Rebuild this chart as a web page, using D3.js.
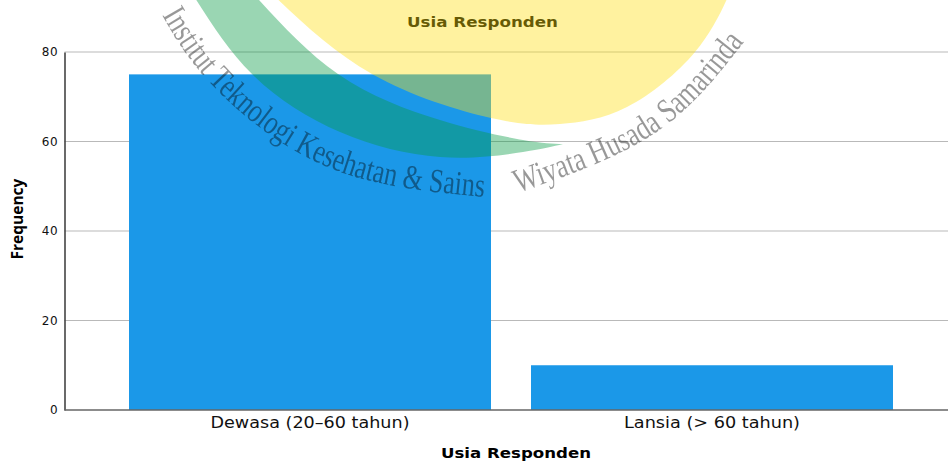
<!DOCTYPE html>
<html><head><meta charset="utf-8">
<script src="https://cdn.jsdelivr.net/npm/d3@7/dist/d3.min.js"></script>
<style>html,body{margin:0;padding:0;background:#fff}svg{display:block}text{font-family:"DejaVu Sans",sans-serif}</style>
</head><body><svg id="c" width="948" height="461"></svg>
<script>
const categories = ["Dewasa (20–60 tahun)", "Lansia (> 60 tahun)"];
const frequency = [75, 10];
const yTicks = [0, 20, 40, 60, 80];
const chartTitle = "Usia Responden";
const xTitle = "Usia Responden";
const yTitle = "Frequency";
const watermarkLeft = "Institut Teknologi Kesehatan & Sains";
const watermarkRight = "Wiyata Husada Samarinda";

const svg = d3.select("#c");
const x = d3.scaleBand().domain(categories).range([109, 913]).paddingInner(40/402).paddingOuter(20/402);
const y = d3.scaleLinear().domain([0, 80]).range([410, 52]);
const left = 64.5, right = 948;
const catWidths = [199, 176];

svg.append("rect").attr("width",948).attr("height",461).attr("fill","#fff");

// grid
svg.append("g").selectAll("line").data(yTicks.filter(d=>d>0)).join("line")
  .attr("x1",left).attr("x2",right).attr("y1",d=>y(d)).attr("y2",d=>y(d))
  .attr("stroke","#b9b9b9").attr("stroke-width",1);

// bars
svg.append("g").selectAll("rect").data(frequency).join("rect")
  .attr("x",(d,i)=>x(categories[i])).attr("width",x.bandwidth())
  .attr("y",d=>y(d)).attr("height",d=>y(0)-y(d)).attr("fill","#1b98e8");

// axes
const ay = svg.append("g").attr("transform",`translate(${left},0)`)
  .call(d3.axisLeft(y).tickValues(yTicks).tickSize(0).tickPadding(6));
ay.select(".domain").attr("stroke","#444").attr("stroke-width",1.6);
ay.selectAll("text").attr("font-size",12).attr("letter-spacing",0.8).attr("fill","#111");

const ax = svg.append("g").attr("transform","translate(0,410)")
  .call(d3.axisBottom(x).tickSize(0).tickPadding(7));
ax.select(".domain").remove();
ax.append("line").attr("x1",left).attr("x2",right).attr("stroke","#666").attr("stroke-width",1.6);
ax.selectAll("text").attr("font-size",15).attr("fill","#111")
  .attr("textLength",(d,i)=>catWidths[i]).attr("lengthAdjust","spacingAndGlyphs");

svg.append("text").attr("x",482.5).attr("y",26.5).attr("text-anchor","middle")
  .attr("font-size",14.5).attr("font-weight","bold").attr("fill","#000")
  .attr("textLength",151).attr("lengthAdjust","spacingAndGlyphs").text(chartTitle);
svg.append("text").attr("x",516).attr("y",457.5).attr("text-anchor","middle")
  .attr("font-size",14).attr("font-weight","bold").attr("fill","#000")
  .attr("textLength",150).attr("lengthAdjust","spacingAndGlyphs").text(xTitle);
svg.append("text").attr("transform","translate(22.5,219) rotate(-90)").attr("text-anchor","middle")
  .style("font-family","'Open Sans'").attr("font-size",15.5).attr("font-weight","bold").attr("fill","#000").text(yTitle);

// watermark on top of everything, semi transparent
const wm = svg.append("g").attr("opacity",0.4);
const curve = d3.line().curve(d3.curveNatural);
const sunEdge = [[268,-10],[372,74],[491,118],[560,124],[627,107],[695,52],[731,-10]];
const bandOuter = [[190,-10],[252,74],[340,132],[440,157],[523,152],[563,144]];
const bandInner = [[563,144],[523,140],[440,120],[338,74],[250,-10]];
wm.append("path").attr("d",curve(sunEdge)+"Z").attr("fill","rgb(255,225,17)");
wm.append("path").attr("d",curve(bandOuter)+curve(bandInner).replace("M","L")+"Z").attr("fill","rgb(5,155,67)");

const defs = svg.append("defs");
defs.append("filter").attr("id","soft").append("feGaussianBlur").attr("stdDeviation",0.6);
defs.append("path").attr("id","arcL").attr("d",curve([[162,15],[215,88],[330,168],[484,197]]));
defs.append("path").attr("id","arcR").attr("d",curve([[518,193],[655,133],[744,42]]));
const wt = (id,s)=>{
  const len = document.getElementById(id).getTotalLength();
  wm.append("text").attr("fill","#000").attr("filter","url(#soft)")
    .style("font-family","'Liberation Serif'").attr("font-size",34)
    .append("textPath").attr("href","#"+id).attr("textLength",len).attr("lengthAdjust","spacingAndGlyphs").text(s);
};
wt("arcL",watermarkLeft);
wt("arcR",watermarkRight);
</script></body></html>
